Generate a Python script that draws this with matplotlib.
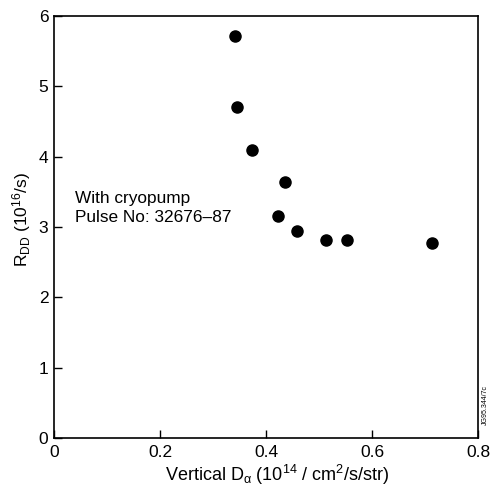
import matplotlib
matplotlib.use("Agg")
import matplotlib.pyplot as plt

plt.rcParams['font.family'] = ['Liberation Sans', 'DejaVu Sans']
plt.rcParams['mathtext.fontset'] = 'custom'
plt.rcParams['mathtext.rm'] = 'Liberation Sans'
plt.rcParams['mathtext.it'] = 'Liberation Sans'

# vertical D-alpha (1e14 /cm2/s/str) vs R_DD (1e16 /s)
d_alpha = [0.341, 0.346, 0.373, 0.436, 0.422, 0.458, 0.514, 0.552, 0.713]
r_dd = [5.72, 4.71, 4.10, 3.64, 3.15, 2.95, 2.82, 2.82, 2.78]

xticks = [0, 0.2, 0.4, 0.6, 0.8]
xticklabels = ['0', '0.2', '0.4', '0.6', '0.8']
yticks = [0, 1, 2, 3, 4, 5, 6]

fig = plt.figure(figsize=(4.91, 4.88), dpi=100)
ax = fig.add_axes([0.110, 0.1025, 0.8635, 0.8645])

ax.plot(d_alpha, r_dd, 'o', color='black', ms=8, mec='black')

ax.set_xlim(0, 0.8)
ax.set_ylim(0, 6)
ax.set_xticks(xticks)
ax.set_xticklabels(xticklabels)
ax.set_yticks(yticks)
ax.tick_params(direction='in', length=6, width=1, labelsize=12.5)
ax.tick_params(axis='x', pad=5)
ax.tick_params(axis='y', pad=4)
for s in ax.spines.values():
    s.set_linewidth(1.2)

ax.text(0.04, 3.27, 'With cryopump\nPulse No: 32676\u201387', fontsize=12.4,
        linespacing=1.35, va='center', ha='left')

fig.text(277 / 491, 1 - 475 / 488,
         r'Vertical D$_\alpha$ (10$^{14}$ / cm$^2$/s/str)',
         ha='center', va='center', fontsize=13)
fig.text(22 / 491, 1 - 219 / 488, r'R$_{\rm DD}$ (10$^{16}$/s)',
         rotation=90, ha='center', va='center', fontsize=12.5)
fig.text(485 / 491, 1 - 405 / 488, 'JG95.344/7c', rotation=90,
         ha='center', va='center', fontsize=5)

fig.savefig('out.png', dpi=100)
